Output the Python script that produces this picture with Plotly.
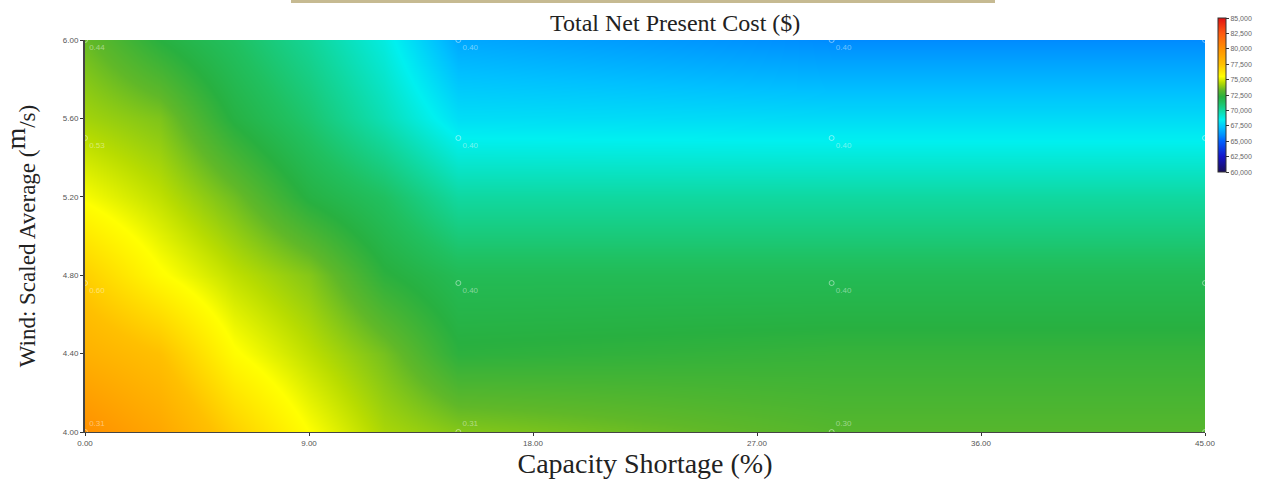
import plotly.graph_objects as go

# ---- data ----
capacity_shortage = [0, 3, 6, 9, 12, 15, 30, 45]          # %
wind_speed = [4.0, 4.4, 4.8, 5.2, 5.6, 6.0]                 # m/s
npc_y400 = [80000, 78800, 77000, 75500, 74300, 73800, 73100, 73100]
npc_y440 = [78300, 77500, 75600, 74600, 73600, 72300, 72500, 72500]
npc_y480 = [77000, 75600, 74600, 73800, 72300, 71600, 71600, 71600]
npc_y520 = [75400, 74600, 73500, 72100, 71300, 70000, 70000, 70000]
npc_y560 = [74200, 73700, 72100, 71000, 69600, 68000, 67900, 67900]
npc_y600 = [73400, 72200, 71300, 70200, 68800, 66600, 65900, 65900]

# sensitivity points shown with faint labels
point_x = [0, 15, 30, 45]
point_y = [4.0, 4.76, 5.5, 6.0]
point_labels_by_row = [
    ["0.31", "0.31", "0.30", "0.30"],
    ["0.60", "0.40", "0.40", "0.40"],
    ["0.53", "0.40", "0.40", "0.40"],
    ["0.44", "0.40", "0.40", "0.40"],
]

cbar_ticks = [60000, 62500, 65000, 67500, 70000, 72500, 75000, 77500, 80000, 82500, 85000]
x_ticks = [0, 9, 18, 27, 36, 45]
y_ticks = [4.0, 4.4, 4.8, 5.2, 5.6, 6.0]

# colour scale (value -> colour)
cs_vals = [60000, 62500, 65000, 66000, 67200, 68500, 70000, 71300, 72200, 73300,
           74500, 75500, 77500, 80000, 82500, 85000]
cs_cols = ["#1a0f5a", "#1414c8", "#0060ff", "#0090ff", "#00c0ff", "#00f0f0", "#10d8a0",
           "#20c060", "#28b040", "#60b828", "#b8dc00", "#ffff00", "#ffc000", "#ff9000",
           "#ff5a10", "#e01010"]
zmin, zmax = cbar_ticks[0], cbar_ticks[-1]
colorscale = [[(v - zmin) / (zmax - zmin), c] for v, c in zip(cs_vals, cs_cols)]

z = [npc_y400, npc_y440, npc_y480, npc_y520, npc_y560, npc_y600]

fig = go.Figure()
fig.add_trace(go.Heatmap(
    x=capacity_shortage, y=wind_speed, z=z,
    zmin=zmin, zmax=zmax, zsmooth="best", colorscale=colorscale,
    hoverinfo="skip",
    colorbar=dict(
        x=1.0116, xanchor="left", xpad=0,
        y=1.056, yanchor="top", ypad=0,
        lenmode="pixels", len=154, thickness=8,
        tickvals=cbar_ticks, ticktext=[f"{v:,}" for v in cbar_ticks],
        ticks="outside", ticklen=3, tickcolor="#333",
        tickfont=dict(family="Liberation Sans", size=7, color="#666"),
        outlinewidth=1, outlinecolor="#333",
    ),
))

px_, py_, pt_, pos_ = [], [], [], []
for r, yv in enumerate(point_y):
    for c, xv in enumerate(point_x):
        px_.append(xv)
        py_.append(yv)
        pt_.append(point_labels_by_row[r][c])
        pos_.append("top right" if r == 0 else "bottom right")
fig.add_trace(go.Scatter(
    x=px_, y=py_, mode="markers+text", text=pt_, textposition=pos_,
    marker=dict(symbol="circle-open", size=5, color="rgba(255,255,255,0.45)", line=dict(width=1)),
    textfont=dict(family="Liberation Sans", size=8, color="rgba(255,255,255,0.45)"),
    cliponaxis=True, showlegend=False, hoverinfo="skip",
))

fig.update_layout(
    width=1269, height=480,
    margin=dict(l=85, r=64, t=40, b=48),
    paper_bgcolor="white", plot_bgcolor="white",
    showlegend=False,
    annotations=[dict(
        text="Total Net Present Cost ($)", x=0.527, y=1.0, xref="paper", yref="paper",
        xanchor="center", yanchor="bottom", yshift=2, showarrow=False,
        font=dict(family="Liberation Serif", size=24, color="#222"),
    )],
    shapes=[dict(type="rect", xref="paper", yref="paper",
                 x0=(291 - 85) / 1120, x1=(995 - 85) / 1120,
                 y0=(432 - 3) / 392, y1=(432 + 1) / 392,
                 fillcolor="#c6ba92", line=dict(width=0))],
)
fig.update_xaxes(
    range=[0, 45], tickvals=x_ticks, ticktext=[f"{v:.2f}" for v in x_ticks],
    ticks="outside", ticklen=3, tickcolor="#333",
    tickfont=dict(family="Liberation Sans", size=8, color="#555"),
    showline=True, linecolor="#444", linewidth=1, mirror=False,
    showgrid=False, zeroline=False, automargin=False,
    title=dict(text="Capacity Shortage (%)", standoff=5,
               font=dict(family="Liberation Serif", size=28, color="#222")),
)
fig.update_yaxes(
    range=[4, 6], tickvals=y_ticks, ticktext=[f"{v:.2f}" for v in y_ticks],
    ticks="outside", ticklen=3, tickcolor="#333",
    tickfont=dict(family="Liberation Sans", size=8, color="#555"),
    showline=True, linecolor="#444", linewidth=2,
    showgrid=False, zeroline=False, automargin=False,
    title=dict(text="Wind: Scaled Average (<sup><span style='font-size:28px'>m</span></sup>/s)", standoff=22,
               font=dict(family="Liberation Serif", size=23, color="#222")),
)

fig.write_html("out.html", config={"displayModeBar": False},
               post_script="document.body.style.margin='0px';")
